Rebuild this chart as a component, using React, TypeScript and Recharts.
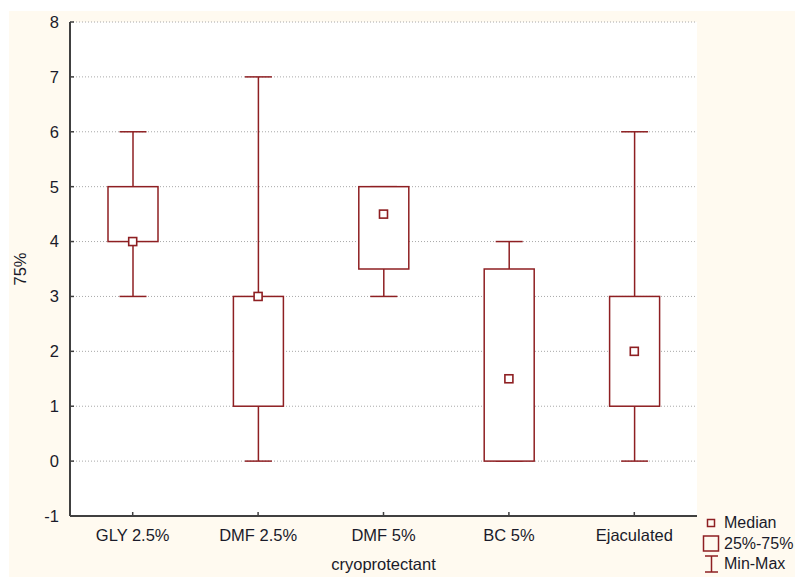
import React from 'react';
import { ComposedChart, Bar, Line, XAxis, YAxis, CartesianGrid } from 'recharts';

const categories = ['GLY 2.5%', 'DMF 2.5%', 'DMF 5%', 'BC 5%', 'Ejaculated'];
const minValues = [3, 0, 3, 0, 0];
const q1Values = [4, 1, 3.5, 0, 1];
const medianValues = [4, 3, 4.5, 1.5, 2];
const q3Values = [5, 3, 5, 3.5, 3];
const maxValues = [6, 7, 5, 4, 6];
const yTicks = [-1, 0, 1, 2, 3, 4, 5, 6, 7, 8];

const data = categories.map((name, i) => ({
  name,
  range: [minValues[i], maxValues[i]],
  min: minValues[i],
  q1: q1Values[i],
  median: medianValues[i],
  q3: q3Values[i],
  max: maxValues[i],
}));

const RED = '#8E1F22';
const FRAME = '#404040';
const TEXT = '#1a1a2a';
const FONT = '"Liberation Sans", Arial, sans-serif';
const FS = 16.5;
const LFS = 16;

function BoxShape(props: any) {
  const { x, y, width, height, payload } = props;
  if (!payload) return <g />;
  const top = Math.min(y, y + height);
  const bottom = Math.max(y, y + height);
  const { min, max, q1, q3 } = payload;
  const px = (v: number) => bottom - ((v - min) / (max - min)) * (bottom - top);
  const cx = x + width / 2;
  const cap = 27;
  return (
    <g>
      <line x1={cx} x2={cx} y1={px(max)} y2={px(min)} stroke={RED} strokeWidth={1.5} />
      <line x1={cx - cap / 2} x2={cx + cap / 2} y1={px(max)} y2={px(max)} stroke={RED} strokeWidth={1.5} />
      <line x1={cx - cap / 2} x2={cx + cap / 2} y1={px(min)} y2={px(min)} stroke={RED} strokeWidth={1.5} />
      <rect x={x} y={px(q3)} width={width} height={px(q1) - px(q3)} fill="#ffffff" stroke={RED} strokeWidth={1.5} />
    </g>
  );
}

function MedianDot(props: any) {
  const { cx, cy, index } = props;
  if (cx == null || cy == null) return <g key={index} />;
  return <rect key={index} x={cx - 4} y={cy - 4} width={8} height={8} fill="#ffffff" stroke={RED} strokeWidth={1.6} />;
}

function YTick(props: any) {
  const { x, y, payload } = props;
  return (
    <g>
      <text x={x} y={y} dy="0.36em" textAnchor="end" fill={TEXT} fontSize={FS} fontFamily={FONT}>
        {payload.value}
      </text>
      <line x1={x + 11} x2={x + 15} y1={y} y2={y} stroke={FRAME} strokeWidth={1.5} />
    </g>
  );
}

function XTick(props: any) {
  const { x, y, payload } = props;
  return (
    <g>
      <text x={x} y={y + 25} textAnchor="middle" fill={TEXT} fontSize={FS} fontFamily={FONT}>
        {payload.value}
      </text>
      <line x1={x} x2={x} y1={y} y2={y - 4} stroke={FRAME} strokeWidth={1.5} />
    </g>
  );
}

const EmptyTick = () => <g />;

function YLabel(props: any) {
  const vb = props.viewBox || { x: 0, y: 11, width: 61, height: 494 };
  const cx = 11;
  const cy = vb.y + vb.height / 2;
  return (
    <text x={cx} y={cy} dy="0.36em" textAnchor="middle" transform={`rotate(-90 ${cx} ${cy})`} fill={TEXT} fontSize={FS} fontFamily={FONT}>
      75%
    </text>
  );
}

function XLabel(props: any) {
  const vb = props.viewBox || { x: 61, y: 505, width: 627, height: 61 };
  return (
    <text x={vb.x + vb.width / 2} y={vb.y + 54} textAnchor="middle" fill={TEXT} fontSize={FS} fontFamily={FONT}>
      cryoprotectant
    </text>
  );
}

export default function App() {
  return (
    <>
      <style>{'html,body{margin:0;padding:0;overflow:hidden;background:#ffffff;}'}</style>
      <div style={{ position: 'absolute', left: 9, top: 11, width: 786, height: 566, background: '#FFFAF0' }}>
        <ComposedChart width={786} height={566} data={data} margin={{ top: 11, right: 98, bottom: 0, left: 0 }}>
          <CartesianGrid vertical={false} stroke="#a8a8a8" strokeDasharray="1 2" fill="#ffffff" fillOpacity={1} />
          <XAxis
            dataKey="name"
            type="category"
            height={61}
            axisLine={{ stroke: FRAME, strokeWidth: 2 }}
            tickLine={false}
            tickSize={0}
            tickMargin={0}
            tick={<XTick />}
            interval={0}
            label={(p: any) => <XLabel {...p} />}
          />
          <XAxis
            xAxisId="top"
            dataKey="name"
            type="category"
            orientation="top"
            height={0}
            mirror
            axisLine={{ stroke: FRAME, strokeWidth: 2 }}
            tickLine={{ stroke: FRAME, strokeWidth: 1.5 }}
            tickSize={4}
            tick={EmptyTick}
            interval={0}
          />
          <YAxis
            type="number"
            domain={[-1, 8]}
            ticks={yTicks}
            interval={0}
            width={61}
            axisLine={{ stroke: FRAME, strokeWidth: 2 }}
            tickLine={false}
            tickSize={0}
            tickMargin={11}
            tick={<YTick />}
            label={(p: any) => <YLabel {...p} />}
          />
          <YAxis
            yAxisId="right"
            type="number"
            orientation="right"
            domain={[-1, 8]}
            ticks={yTicks}
            interval={0}
            width={0}
            mirror
            axisLine={{ stroke: FRAME, strokeWidth: 2 }}
            tickLine={{ stroke: FRAME, strokeWidth: 1.5 }}
            tickSize={4}
            tick={EmptyTick}
          />
          <Bar dataKey="range" barSize={50} shape={(p: any) => <BoxShape {...p} />} isAnimationActive={false} />
          <Line
            dataKey="median"
            stroke="none"
            strokeWidth={0}
            dot={(p: any) => <MedianDot {...p} key={p.index} />}
            activeDot={false}
            isAnimationActive={false}
          />
        </ComposedChart>
        <svg width={786} height={566} style={{ position: 'absolute', left: 0, top: 0, pointerEvents: 'none', overflow: 'visible' }}>
          <rect x={698.5} y={508.5} width={7} height={7} fill="none" stroke={RED} strokeWidth={1.5} />
          <text x={715} y={511.5} dy="0.36em" fill={TEXT} fontSize={LFS} fontFamily={FONT}>Median</text>
          <rect x={694.5} y={525} width={15} height={15} fill="none" stroke={RED} strokeWidth={1.5} />
          <text x={715} y={532.5} dy="0.36em" fill={TEXT} fontSize={LFS} fontFamily={FONT}>25%-75%</text>
          <line x1={702.5} x2={702.5} y1={545} y2={561} stroke={RED} strokeWidth={1.5} />
          <line x1={696} x2={709} y1={545} y2={545} stroke={RED} strokeWidth={1.5} />
          <line x1={696} x2={709} y1={561} y2={561} stroke={RED} strokeWidth={1.5} />
          <text x={715} y={552.5} dy="0.36em" fill={TEXT} fontSize={LFS} fontFamily={FONT}>Min-Max</text>
        </svg>
      </div>
    </>
  );
}
